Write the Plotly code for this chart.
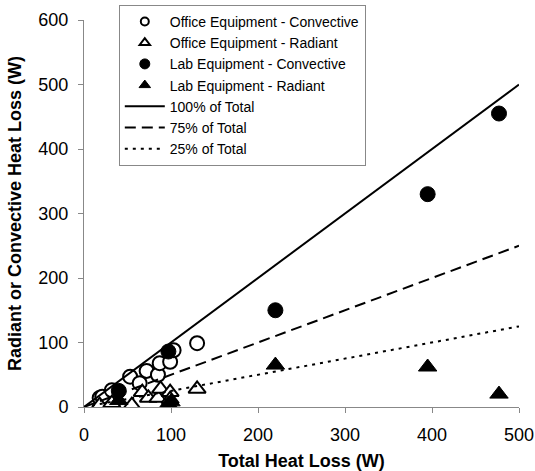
import plotly.graph_objects as go

# Data
office_conv_x = [18, 21, 32, 53, 64, 72, 85, 87, 99, 103, 130]
office_conv_y = [14, 16, 26, 47, 37, 56, 50, 68, 70, 88, 99]
office_rad_x = [18, 32, 55, 67, 74, 85, 88, 99, 99, 130]
office_rad_y = [3, 6, 3, 23, 14, 14, 28, 23, 12, 28]
lab_conv_x = [40, 97, 220, 395, 477]
lab_conv_y = [25, 86, 150, 330, 455]
lab_rad_x = [40, 97, 100, 220, 395, 477]
lab_rad_y = [10, 5, 8, 65, 62, 20]
line_x = [0, 500]
line_100 = [0, 500]
line_75 = [0, 250]
line_25 = [0, 125]
x_ticks = [0, 100, 200, 300, 400, 500]
y_ticks = [0, 100, 200, 300, 400, 500, 600]

FONT = "Liberation Sans, Arial, sans-serif"

fig = go.Figure()

oc_plot = dict(symbol="circle", size=14, color="white", line=dict(color="black", width=2))
or_plot = dict(symbol="triangle-up", size=15, color="white", line=dict(color="black", width=2))
lc_plot = dict(symbol="circle", size=15, color="black", line=dict(color="black", width=1))
lr_plot = dict(symbol="triangle-up", size=16, color="black", line=dict(color="black", width=1))

oc_leg = dict(symbol="circle", size=8, color="white", line=dict(color="black", width=2))
or_leg = dict(symbol="triangle-up", size=9, color="white", line=dict(color="black", width=2))
lc_leg = dict(symbol="circle", size=10, color="black", line=dict(color="black", width=1))
lr_leg = dict(symbol="triangle-up", size=10, color="black", line=dict(color="black", width=1))

series = [
    ("Office Equipment - Convective", office_conv_x, office_conv_y, oc_plot, oc_leg),
    ("Office Equipment - Radiant", office_rad_x, office_rad_y, or_plot, or_leg),
    ("Lab Equipment - Convective", lab_conv_x, lab_conv_y, lc_plot, lc_leg),
    ("Lab Equipment - Radiant", lab_rad_x, lab_rad_y, lr_plot, lr_leg),
]
for name, xs, ys, mp, ml in series:
    fig.add_trace(go.Scatter(x=xs, y=ys, mode="markers", name=name,
                             marker=mp, showlegend=False, legendgroup=name))
    fig.add_trace(go.Scatter(x=[None], y=[None], mode="markers", name=name,
                             marker=ml, showlegend=True, legendgroup=name))

fig.add_trace(go.Scatter(x=line_x, y=line_100, mode="lines", name="100% of Total",
                         line=dict(color="black", width=2)))
fig.add_trace(go.Scatter(x=line_x, y=line_75, mode="lines", name="75% of Total",
                         line=dict(color="black", width=2, dash="11px,6px")))
fig.add_trace(go.Scatter(x=line_x, y=line_25, mode="lines", name="25% of Total",
                         line=dict(color="black", width=2, dash="3px,5px")))

axis_common = dict(showgrid=False, zeroline=False, showline=True,
                   linecolor="#888", linewidth=1, ticks="outside", ticklen=5,
                   tickcolor="#888", tickfont=dict(size=18), automargin=False)

fig.update_layout(
    width=535, height=471,
    margin=dict(l=84, r=16, t=20, b=64, autoexpand=False),
    paper_bgcolor="white", plot_bgcolor="white",
    font=dict(family=FONT, color="black", size=16),
    showlegend=True,
    legend=dict(x=0.08, y=1.039, xanchor="left", yanchor="top",
                bgcolor="white", bordercolor="#888", borderwidth=1,
                font=dict(family=FONT, size=14), tracegroupgap=0,
                itemwidth=40),
    xaxis=dict(range=[0, 500], tickvals=x_ticks, ticklabelstandoff=6,
               title=dict(text="<b>Total Heat Loss (W)</b>",
                          font=dict(size=18), standoff=10),
               **axis_common),
    yaxis=dict(range=[0, 600], tickvals=y_ticks, ticklabelstandoff=6,
               title=dict(text="<b>Radiant or Convective Heat Loss (W)</b>",
                          font=dict(size=18), standoff=12),
               **axis_common),
)

fig.write_html("out.html")
